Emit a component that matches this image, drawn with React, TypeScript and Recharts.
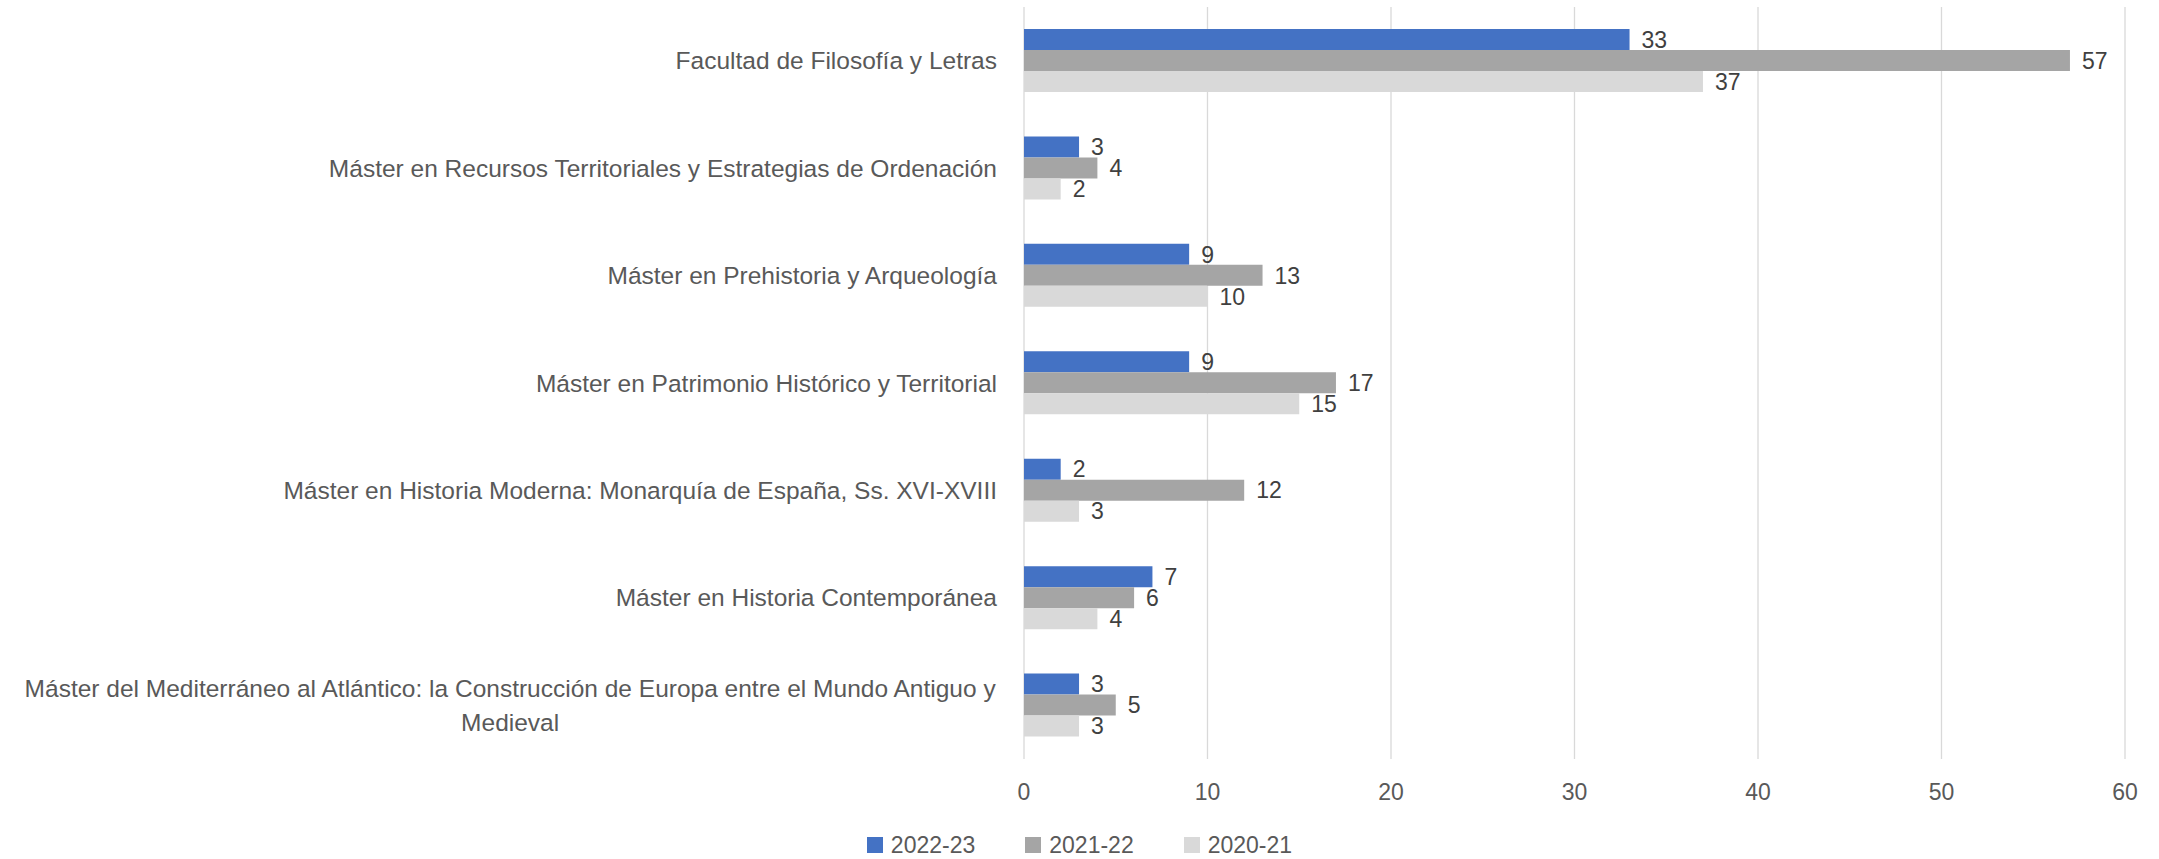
import { BarChart, Bar, XAxis, YAxis, CartesianGrid, Legend, LabelList } from 'recharts';

const categories = [
  'Facultad de Filosofía y Letras',
  'Máster en Recursos Territoriales y Estrategias de Ordenación',
  'Máster en Prehistoria y Arqueología',
  'Máster en Patrimonio Histórico y Territorial',
  'Máster en Historia Moderna: Monarquía de España, Ss. XVI-XVIII',
  'Máster en Historia Contemporánea',
  'Máster del Mediterráneo al Atlántico: la Construcción de Europa entre el Mundo Antiguo y Medieval',
];

const values2223 = [33, 3, 9, 9, 2, 7, 3];
const values2122 = [57, 4, 13, 17, 12, 6, 5];
const values2021 = [37, 2, 10, 15, 3, 4, 3];

const seriesNames = ['2022-23', '2021-22', '2020-21'];
const seriesColors = ['#4472C4', '#A5A5A5', '#D9D9D9'];
const xTicks = [0, 10, 20, 30, 40, 50, 60];

const data = categories.map((name, i) => ({
  name,
  s2223: values2223[i],
  s2122: values2122[i],
  s2021: values2021[i],
}));

const FONT = "'Liberation Sans', Arial, sans-serif";
const FONT_SIZE = 23;
const CAT_FONT_SIZE = 24.5;
const TEXT_COLOR = '#595959';

let ctx: CanvasRenderingContext2D | null = null;
function measure(text: string) {
  if (!ctx) {
    ctx = document.createElement('canvas').getContext('2d');
  }
  if (!ctx) return text.length * CAT_FONT_SIZE * 0.5;
  ctx.font = `${CAT_FONT_SIZE}px ${FONT}`;
  return ctx.measureText(text).width;
}

function wrap(text: string, maxWidth: number) {
  const words = text.split(' ');
  const lines: string[] = [];
  let cur = '';
  words.forEach((w) => {
    const next = cur ? cur + ' ' + w : w;
    if (cur && measure(next) > maxWidth) {
      lines.push(cur);
      cur = w;
    } else {
      cur = next;
    }
  });
  if (cur) lines.push(cur);
  return lines;
}

function CategoryTick(props: any) {
  const { x, y, payload } = props;
  const lines = wrap(payload.value, 990);
  const lineHeight = 34;
  if (lines.length === 1) {
    return (
      <text x={x} y={y} dy="0.35em" textAnchor="end" fill={TEXT_COLOR} fontSize={CAT_FONT_SIZE} fontFamily={FONT}>
        {lines[0]}
      </text>
    );
  }
  const maxW = Math.max(...lines.map(measure));
  const cx = x - maxW / 2;
  return (
    <text textAnchor="middle" fill={TEXT_COLOR} fontSize={CAT_FONT_SIZE} fontFamily={FONT}>
      {lines.map((l, i) => (
        <tspan key={i} x={cx} y={y + (i - (lines.length - 1) / 2) * lineHeight} dy="0.35em">
          {l}
        </tspan>
      ))}
    </text>
  );
}

function LegendContent() {
  return (
    <div
      style={{
        display: 'flex',
        justifyContent: 'center',
        alignItems: 'center',
        height: 50,
        paddingTop: 22,
        boxSizing: 'border-box',
        fontFamily: FONT,
        fontSize: FONT_SIZE,
        color: TEXT_COLOR,
      }}
    >
      {seriesNames.map((n, i) => (
        <div key={n} style={{ display: 'flex', alignItems: 'center', marginRight: i < seriesNames.length - 1 ? 50 : 0 }}>
          <span style={{ width: 16, height: 16, background: seriesColors[i], marginRight: 8, display: 'inline-block' }} />
          {n}
        </div>
      ))}
    </div>
  );
}

const labelStyle = { fill: '#404040', fontSize: FONT_SIZE, fontFamily: FONT };

export default function App() {
  return (
    <div style={{ position: 'absolute', left: 0, top: 0, background: '#fff' }}>
      <BarChart
        width={2159}
        height={859}
        data={data}
        layout="vertical"
        margin={{ top: 7, right: 34, bottom: 0, left: 0 }}
        barSize={21}
        barGap={0}
      >
        <CartesianGrid horizontal={false} stroke="#D9D9D9" strokeWidth={1.3} />
        <XAxis
          type="number"
          domain={[0, 60]}
          ticks={xTicks}
          axisLine={false}
          tickLine={false}
          tickSize={0}
          tickMargin={25}
          height={50}
          tick={{ fill: TEXT_COLOR, fontSize: FONT_SIZE, fontFamily: FONT }}
        />
        <YAxis
          type="category"
          dataKey="name"
          width={1024}
          axisLine={false}
          tickLine={false}
          tickSize={0}
          tickMargin={27}
          interval={0}
          tick={<CategoryTick />}
        />
        <Legend content={<LegendContent />} verticalAlign="bottom" wrapperStyle={{ left: 0, width: 2159 }} />
        <Bar dataKey="s2223" name={seriesNames[0]} fill={seriesColors[0]} isAnimationActive={false}>
          <LabelList dataKey="s2223" position="right" offset={12} style={labelStyle} />
        </Bar>
        <Bar dataKey="s2122" name={seriesNames[1]} fill={seriesColors[1]} isAnimationActive={false}>
          <LabelList dataKey="s2122" position="right" offset={12} style={labelStyle} />
        </Bar>
        <Bar dataKey="s2021" name={seriesNames[2]} fill={seriesColors[2]} isAnimationActive={false}>
          <LabelList dataKey="s2021" position="right" offset={12} style={labelStyle} />
        </Bar>
      </BarChart>
    </div>
  );
}
